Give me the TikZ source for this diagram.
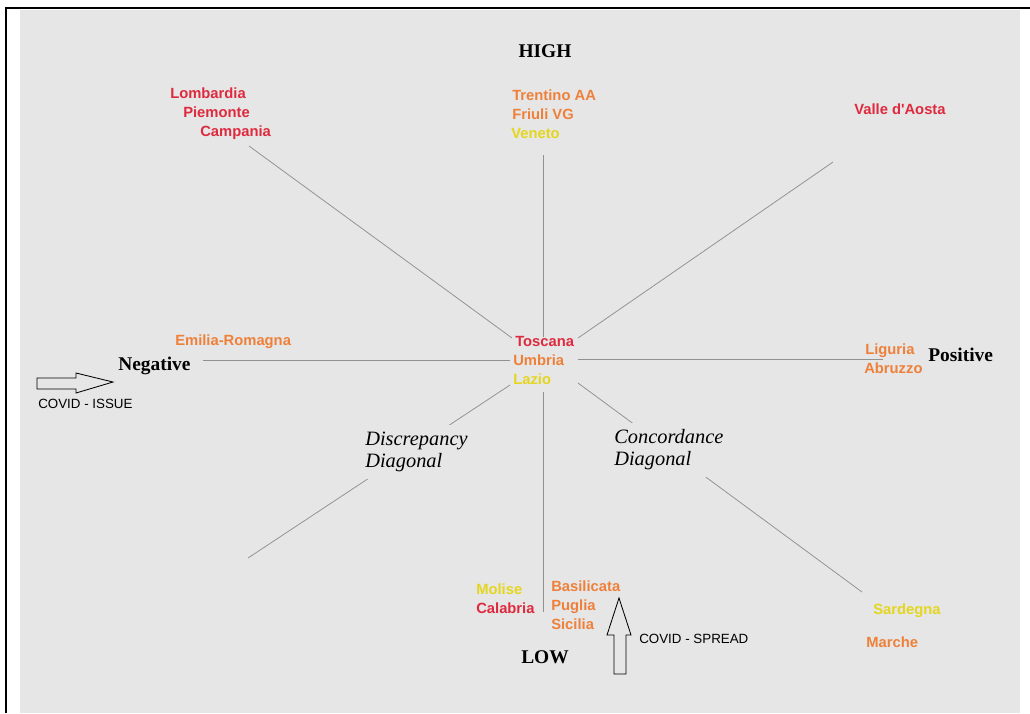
\documentclass[tikz,border=0pt]{standalone}
\usepackage{fontspec}
\setmainfont{Liberation Serif}
\setsansfont{Liberation Sans}
\definecolor{bggray}{RGB}{230,230,230}
\definecolor{axisgray}{RGB}{145,145,145}
\definecolor{regred}{RGB}{222,42,62}
\definecolor{regorange}{RGB}{238,128,58}
\definecolor{regyellow}{RGB}{228,214,30}
\begin{document}
\begin{tikzpicture}[x=0.025cm,y=-0.025cm,
    region/.style={font=\sffamily\bfseries\fontsize{10.5}{12}\selectfont,anchor=west,inner sep=0pt,text height=0.72em,text depth=0pt},
    pole/.style={font=\rmfamily\bfseries\fontsize{13.8}{15}\selectfont,inner sep=0pt,text height=0.68em,text depth=0pt},
    diaglbl/.style={font=\rmfamily\itshape\fontsize{14.5}{15.6}\selectfont,align=left,anchor=west,inner sep=5pt,fill=bggray},
    covidlbl/.style={font=\sffamily\fontsize{9.5}{11}\selectfont,anchor=west,inner sep=0pt,text height=0.72em,text depth=0pt},
    axis/.style={draw=axisgray,line width=0.55pt}]
    \useasboundingbox (0,0) rectangle (1030,713);
    %% Frame
    \fill[bggray] (20,9.5) rectangle (1020,713);
    \draw[line width=1.4pt] (6,713) -- (6,8) -- (1030,8);
    %% Axis ends
    \coordinate (upA) at (543,155);
    \coordinate (upB) at (543,337);
    \coordinate (dnA) at (543,392);
    \coordinate (dnB) at (543,612);
    \coordinate (ltA) at (203,360);
    \coordinate (ltB) at (510,360);
    \coordinate (rtA) at (578,359);
    \coordinate (rtB) at (883,359);
    \coordinate (nwA) at (249,146);
    \coordinate (nwB) at (512,338);
    \coordinate (neA) at (833,162);
    \coordinate (neB) at (578,338);
    \coordinate (swA) at (510,385);
    \coordinate (swB) at (248,558);
    \coordinate (seA) at (578,383);
    \coordinate (seB) at (862,592);
    %% Axes
    \draw[axis] (upA) -- (upB);
    \draw[axis] (dnA) -- (dnB);
    \draw[axis] (ltA) -- (ltB);
    \draw[axis] (rtA) -- (rtB);
    \draw[axis] (nwA) -- (nwB);
    \draw[axis] (neA) -- (neB);
    \draw[axis] (swA) -- (swB);
    \draw[axis] (seA) -- (seB);
    %% Diagonal labels
    \node[diaglbl] (disc) at (358,452) {Discrepancy\\Diagonal};
    \node[diaglbl] (conc) at (607,450) {Concordance\\Diagonal};
    %% Poles
    \node[pole] (high) at (545,53) {HIGH};
    \node[pole] (low) at (545,659) {LOW};
    \node[pole,anchor=west] (neg) at (118,366) {Negative};
    \node[pole,anchor=west] (pos) at (928,357) {Positive};
    %% Regions
    \node[region,regred] (lomb) at (170,93) {Lombardia};
    \node[region,regred] (piem) at (183,112) {Piemonte};
    \node[region,regred] (camp) at (200,131) {Campania};
    \node[region,regorange] (tren) at (512,95) {Trentino AA};
    \node[region,regorange] (friu) at (512,114) {Friuli VG};
    \node[region,regyellow] (vene) at (511,133) {Veneto};
    \node[region,regred] (vall) at (854,109) {Valle d\textquotesingle Aosta};
    \node[region,regorange] (emil) at (175,340) {Emilia-Romagna};
    \node[region,regred] (tosc) at (515,341) {Toscana};
    \node[region,regorange] (umbr) at (513,360) {Umbria};
    \node[region,regyellow] (lazi) at (513,379) {Lazio};
    \node[region,regorange] (ligu) at (865,349) {Liguria};
    \node[region,regorange] (abru) at (864,368) {Abruzzo};
    \node[region,regyellow] (moli) at (476,589) {Molise};
    \node[region,regred] (cala) at (476,608) {Calabria};
    \node[region,regorange] (basi) at (551,586) {Basilicata};
    \node[region,regorange] (pugl) at (551,605) {Puglia};
    \node[region,regorange] (sici) at (551,624) {Sicilia};
    \node[region,regyellow] (sard) at (873,609) {Sardegna};
    \node[region,regorange] (marc) at (866,642) {Marche};
    %% COVID arrows
    \draw[line width=0.6pt] (37,378) -- (76,378) -- (76,373) -- (113,382) -- (76,393) -- (76,389) -- (37,389) -- cycle;
    \node[covidlbl] (issue) at (38,403) {COVID - ISSUE};
    \draw[line width=0.6pt] (614,674) -- (614,635) -- (607,635) -- (619,598) -- (631,635) -- (626,635) -- (626,674) -- cycle;
    \node[covidlbl] (spread) at (639,638) {COVID - SPREAD};
\end{tikzpicture}
\end{document}
